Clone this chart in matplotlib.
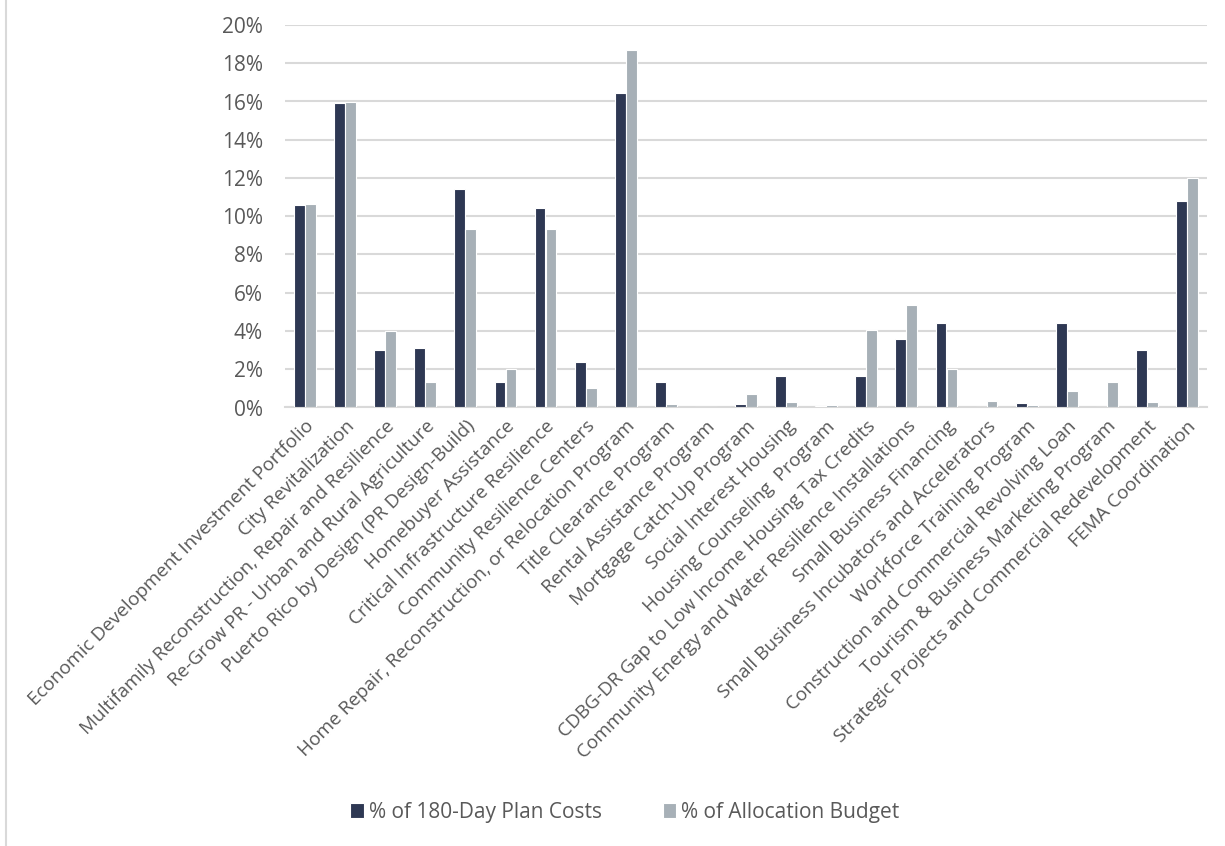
import numpy as np
import matplotlib
matplotlib.use('Agg')
from matplotlib import pyplot as plt
from matplotlib.lines import Line2D
from matplotlib.ticker import FuncFormatter

programs = [
    'Economic Development Investment Portfolio',
    'City Revitalization',
    'Multifamily Reconstruction, Repair and Resilience',
    'Re-Grow PR - Urban and Rural Agriculture',
    'Puerto Rico by Design (PR Design-Build)',
    'Homebuyer Assistance',
    'Critical Infrastructure Resilience',
    'Community Resilience Centers',
    'Home Repair, Reconstruction, or Relocation Program',
    'Title Clearance Program',
    'Rental Assistance Program',
    'Mortgage Catch-Up Program',
    'Social Interest Housing',
    'Housing Counseling  Program',
    'CDBG-DR Gap to Low Income Housing Tax Credits',
    'Community Energy and Water Resilience Installations',
    'Small Business Financing',
    'Small Business Incubators and Accelerators',
    'Workforce Training Program',
    'Construction and Commercial Revolving Loan',
    'Tourism & Business Marketing Program',
    'Strategic Projects and Commercial Redevelopment',
    'FEMA Coordination',
]

plan_costs = [10.6, 15.9, 3.0, 3.13, 11.4, 1.35, 10.45, 2.4, 16.45, 1.35, 0.0, 0.17,
              1.66, 0.08, 1.66, 3.6, 4.42, 0.0, 0.25, 4.41, 0.0, 3.0, 10.78]
alloc_budget = [10.65, 15.97, 4.0, 1.35, 9.35, 2.03, 9.35, 1.01, 18.7, 0.2, 0.0, 0.73,
                0.28, 0.13, 4.03, 5.35, 2.03, 0.33, 0.13, 0.86, 1.31, 0.31, 12.0]

series_names = ['% of 180-Day Plan Costs', '% of Allocation Budget']
dark = '#2e3853'
light = '#a7b0b7'
txt = '#595959'
grid = '#d9d9d9'

plt.rcParams['font.family'] = ['Open Sans', 'DejaVu Sans']

fig = plt.figure(figsize=(12.25, 8.46), dpi=100)
ax = fig.add_axes([285 / 1225, 1 - 407.5 / 846, 922 / 1225, 382.5 / 846])

x = np.arange(len(programs))
w = 0.27
ax.bar(x - 0.1375, plan_costs, width=w, color=dark, edgecolor='white', linewidth=0.8,
       label=series_names[0], zorder=3)
ax.bar(x + 0.1375, alloc_budget, width=w, color=light, edgecolor='white', linewidth=0.8,
       label=series_names[1], zorder=3)

ax.set_xlim(-0.5, len(programs) - 0.5)
ax.set_ylim(0, 20)
ax.set_yticks(np.arange(0, 21, 2))
ax.yaxis.set_major_formatter(FuncFormatter(lambda v, p: '%d%%' % v))
ax.grid(axis='y', color=grid, linewidth=1.5, zorder=0)
for s in ['top', 'right', 'left']:
    ax.spines[s].set_visible(False)
ax.spines['bottom'].set_color(grid)
ax.spines['bottom'].set_linewidth(1.5)
ax.tick_params(axis='both', length=0, colors=txt)
ax.tick_params(axis='y', pad=16, labelsize=15)
ax.set_xticks(x)
ax.set_xticklabels(programs, rotation=45, ha='right', rotation_mode='anchor', fontsize=13.7)
ax.tick_params(axis='x', pad=7)

leg = fig.legend(loc='center', bbox_to_anchor=(625 / 1225, 1 - 812 / 846), ncol=2,
                 frameon=False, fontsize=15, handlelength=0.65, handleheight=0.7,
                 handletextpad=0.25, columnspacing=2.9)
for t in leg.get_texts():
    t.set_color(txt)

fig.add_artist(Line2D([6 / 1225, 6 / 1225], [0, 1], transform=fig.transFigure,
                      color=grid, linewidth=1.5))

fig.savefig('out.png', dpi=100)
